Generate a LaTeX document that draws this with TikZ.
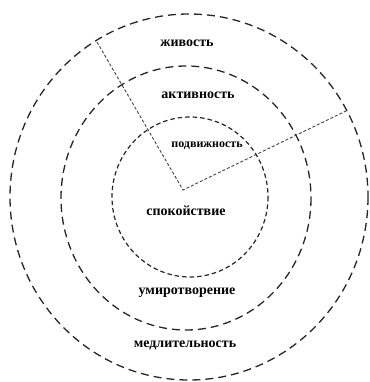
\documentclass[tikz,border=0pt]{standalone}
\usepackage{fontspec}
\setmainfont{Liberation Serif}
\usepackage{tikz}

\tikzset{
  ring/.style={dash pattern=on 8pt off 5pt, line width=1.3pt, color=black!85},
  ringin/.style={dash pattern=on 4.5pt off 3pt, line width=1.2pt, color=black!85},
  spoke/.style={dash pattern=on 3pt off 2pt, line width=0.9pt, color=black!75},
  lbl/.style={font=\fontsize{14}{16}\selectfont\bfseries, inner sep=0pt}
}

\begin{document}
\begin{tikzpicture}[x=1pt,y=-1pt]
  \useasboundingbox (0,0) rectangle (369,382);
  % Cerchi
  \draw[ring] (189,197) ellipse [x radius=179, y radius=183];
  \draw[ring] (186,198) ellipse [x radius=125, y radius=132];
  \draw[ringin] (190,197) ellipse [x radius=78, y radius=80];
  % Raggi
  \coordinate (vert) at (183,190);
  \coordinate (capo1) at (97,42);
  \coordinate (capo2) at (348,110);
  \draw[spoke] (capo1) -- (vert) -- (capo2);
  % Etichette
  \node[lbl] (zhiv) at (187,43) {живость};
  \node[lbl] (aktiv) at (198,95) {активность};
  \node[lbl, font=\fontsize{12}{14}\selectfont\bfseries] (podv) at (207,146) {подвижность};
  \node[lbl] (spok) at (186,211) {спокойствие};
  \node[lbl] (umir) at (187,293) {умиротворение};
  \node[lbl] (medl) at (185,345) {медлительность};
\end{tikzpicture}
\end{document}
